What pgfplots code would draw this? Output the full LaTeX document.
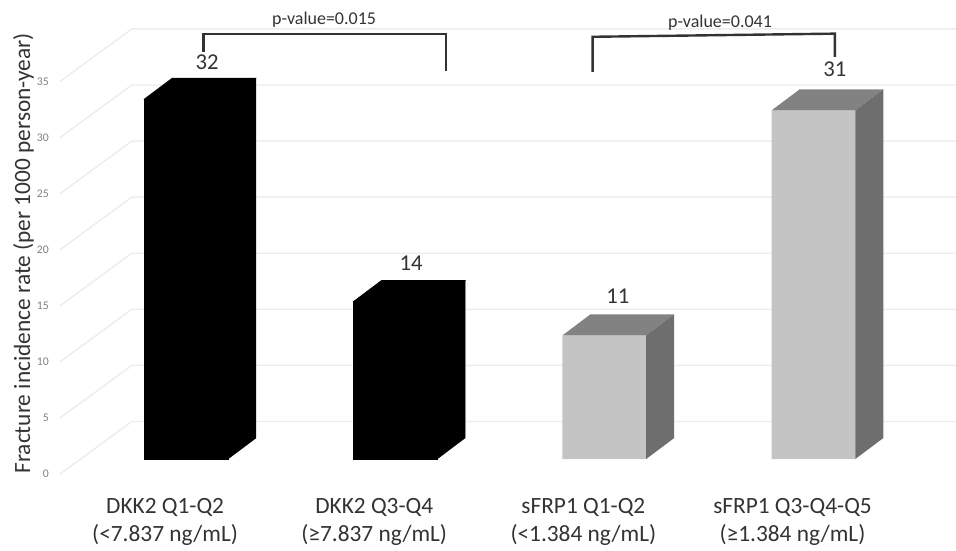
\documentclass[border=0pt]{standalone}
\usepackage{fontspec}
\setmainfont{Carlito}
\usepackage{pgfplots}
\usepackage{pgfplotstable}
\pgfplotsset{compat=1.18}
\definecolor{gridc}{HTML}{EDEDED}
\definecolor{frontc}{HTML}{C4C4C4}
\definecolor{topc}{HTML}{828282}
\definecolor{sidec}{HTML}{6E6E6E}
\definecolor{textc}{HTML}{333333}

% pos, value, x of the number, lift of the number above the front face (px)
\pgfplotstableread{
pos val lab lift
0 32 0.100 37
1 14 1.076 38
2 11 2.064 39
3 31 3.102 41
}\bars

\pgfplotsset{
  full/.style={
    scale only axis, width=717pt, height=410.25pt,
    axis line style={draw=none}, major tick length=0pt,
  },
}

\begin{document}
\begin{tikzpicture}
% back wall: 0 of the scale sits lower than the floor of the bars
\begin{axis}[
  full,
  xmin=0, xmax=956, ymin=-6.506, ymax=42.246,
  xtick=\empty,
  ytick={0,5,10,15,20,25,30,35},
  /pgf/number format/assume math mode=true,
  yticklabel style={anchor=east, xshift=36.75pt, inner sep=0pt, text=black!50, font=\fontsize{8.8}{10}\selectfont},
  every axis y label/.style={at={(axis description cs:0.0245,0.537)}, rotate=90, anchor=center},
  ylabel style={text=textc, font=\fontsize{17.5}{19}\selectfont},
  ylabel={Fracture incidence rate (per 1000 person-year)},
]
\addplot[gridc, line width=1.1pt] coordinates {(60,0) (131.7,4.68) (956,4.68)};
\addplot[gridc, line width=1.1pt] coordinates {(60,5) (131.7,9.68) (956,9.68)};
\addplot[gridc, line width=1.1pt] coordinates {(60,10) (131.7,14.68) (956,14.68)};
\addplot[gridc, line width=1.1pt] coordinates {(60,15) (131.7,19.68) (956,19.68)};
\addplot[gridc, line width=1.1pt] coordinates {(60,20) (131.7,24.68) (956,24.68)};
\addplot[gridc, line width=1.1pt] coordinates {(60,25) (131.7,29.68) (956,29.68)};
\addplot[gridc, line width=1.1pt] coordinates {(60,30) (131.7,34.68) (956,34.68)};
\addplot[gridc, line width=1.1pt] coordinates {(60,35) (131.7,39.68) (956,39.68)};
\end{axis}

\begin{axis}[
  full,
  xmin=-0.8891, xmax=3.6807, ymin=-7.822, ymax=40.8,
  ytick=\empty,
  xtick={0,1,2,3},
  xticklabels={{DKK2 Q1-Q2\\(<7.837 ng/mL)},{DKK2 Q3-Q4\\(≥7.837 ng/mL)},{sFRP1 Q1-Q2\\(<1.384 ng/mL)},{sFRP1 Q3-Q4-Q5\\(≥1.384 ng/mL)}},
  xticklabel style={align=center, anchor=center, xshift=-15.75pt, yshift=18.5pt, text=textc, font=\fontsize{17.5}{21}\selectfont},
]
% DKK2 bars, all black
\addplot[ybar, bar width=63pt, bar shift=0pt, fill=black, draw=black, line width=0.4pt] table[x=pos, y=val] {
pos val
0 32
1 14
};
\addplot[fill=black, draw=black, line width=0.4pt] coordinates {(-0.2,32) (0.2,32) (0.334,33.87) (-0.066,33.87)} -- cycle;
\addplot[fill=black, draw=black, line width=0.4pt] coordinates {(0.2,0) (0.334,1.87) (0.334,33.87) (0.2,32)} -- cycle;
\addplot[fill=black, draw=black, line width=0.4pt] coordinates {(0.8,14) (1.2,14) (1.334,15.87) (0.934,15.87)} -- cycle;
\addplot[fill=black, draw=black, line width=0.4pt] coordinates {(1.2,0) (1.334,1.87) (1.334,15.87) (1.2,14)} -- cycle;
% sFRP1 bars
\addplot[ybar, bar width=63pt, bar shift=0pt, fill=frontc, draw=none] table[x=pos, y=val] {
pos val
2 11
3 31
};
\addplot[fill=topc, draw=none] coordinates {(1.8,11) (2.2,11) (2.334,12.87) (1.934,12.87)} -- cycle;
\addplot[fill=sidec, draw=none] coordinates {(2.2,0) (2.334,1.87) (2.334,12.87) (2.2,11)} -- cycle;
\addplot[fill=topc, draw=none] coordinates {(2.8,31) (3.2,31) (3.334,32.87) (2.934,32.87)} -- cycle;
\addplot[fill=sidec, draw=none] coordinates {(3.2,0) (3.334,1.87) (3.334,32.87) (3.2,31)} -- cycle;
% value labels
\addplot[draw=none, mark=none,
  visualization depends on={\thisrow{lift}\as\lift},
  point meta=\thisrow{val},
  nodes near coords,
  nodes near coords style={anchor=center, yshift=0.75*\lift, text=textc, font=\fontsize{17}{19}\selectfont, /pgf/number format/assume math mode=true},
] table[x=lab, y=val] {\bars};
% brackets
\addplot[color=textc, line width=1.8pt] coordinates {(0.0837,36.18) (0.0837,37.78) (1.2428,37.78) (1.2428,34.49)};
\addplot[color=textc, line width=1.8pt] coordinates {(1.944,34.43) (1.944,37.54) (3.102,37.82) (3.102,35.76)};
\node[text=textc, font=\fontsize{13.5}{15}\selectfont] at (axis cs:0.66,39.02) {p-value=0.015};
\node[text=textc, font=\fontsize{13.5}{15}\selectfont] at (axis cs:2.553,38.76) {p-value=0.041};
\end{axis}
\end{tikzpicture}
\end{document}
